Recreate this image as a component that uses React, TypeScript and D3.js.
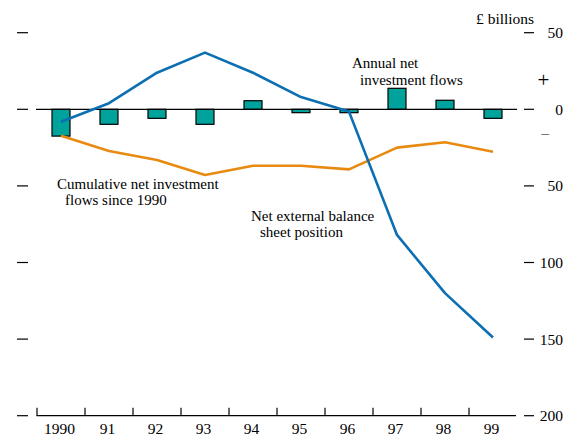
import React from "react";
import * as d3 from "d3";

const years = ["1990", "91", "92", "93", "94", "95", "96", "97", "98", "99"];
const annualFlows = [-17.5, -9.8, -5.9, -9.8, 5.6, -2.2, -2.2, 13.7, 5.9, -5.9];
const cumulativeFlows = [-17.2, -27.2, -33.1, -42.9, -36.8, -36.8, -39.2, -25, -21.5, -27.7];
const netPosition = [-8.1, 4.0, 23.9, 37.0, 23.9, 8.0, -1.5, -82, -120, -149];
const yTicks = [50, 0, -50, -100, -150, -200];
const yTickLabels = ["50", "0", "50", "100", "150", "200"];

const W = 563;
const H = 437;
const FONT = "'Liberation Serif', 'Times New Roman', serif";

export default function App() {
  const x = d3.scaleBand<string>().domain(years).range([37, 517]).padding(0);
  const y = d3.scaleLinear().domain([-200, 0]).range([415.7, 109.3]);
  const bw = x.bandwidth();
  const barW = 18;
  const cx = (i: number) => (x(years[i]) as number) + bw / 2;

  const line = d3
    .line<number>()
    .x((_, i) => cx(i))
    .y((d) => y(d));

  const teal = "#00a39c";
  const blue = "#0b6fb2";
  const orange = "#e98a10";

  return (
    <svg
      width={W}
      height={H}
      style={{ position: "absolute", left: 0, top: 0, display: "block" }}
      fontFamily={FONT}
      fontSize={15.5}
    >
      <rect width={W} height={H} fill="#fff" />
      {/* left ticks */}
      {yTicks.map((t) => (
        <line key={"l" + t} x1={17} x2={28} y1={y(t)} y2={y(t)} stroke="#000" strokeWidth={1.2} />
      ))}
      {/* right ticks and labels */}
      {yTicks.map((t, i) => (
        <g key={"r" + t}>
          <line x1={524} x2={534} y1={y(t)} y2={y(t)} stroke="#000" strokeWidth={1.2} />
          <text x={563} y={y(t)} dy="0.35em" textAnchor="end" fill="#000">
            {yTickLabels[i]}
          </text>
        </g>
      ))}
      <text x={543.5} y={80} dy="0.35em" textAnchor="middle" fontSize={21}>+</text>
      <text x={545} y={133} dy="0.35em" textAnchor="middle">–</text>
      <text x={476} y={24.3}>£ billions</text>

      {/* bars */}
      {annualFlows.map((v, i) => (
        <rect
          key={"b" + i}
          x={cx(i) - barW / 2}
          y={Math.min(y(v), y(0))}
          width={barW}
          height={Math.abs(y(v) - y(0))}
          fill={teal}
          stroke="#000"
          strokeWidth={1.2}
        />
      ))}
      {/* zero line */}
      <line x1={36} x2={517} y1={y(0)} y2={y(0)} stroke="#000" strokeWidth={1.2} />

      {/* x axis */}
      <line x1={36.5} x2={516} y1={y(-200)} y2={y(-200)} stroke="#000" strokeWidth={1.2} />
      {years.map((yr) => (
        <line
          key={"t" + yr}
          x1={(x(yr) as number)}
          x2={(x(yr) as number)}
          y1={y(-200)}
          y2={y(-200) - 8}
          stroke="#000"
          strokeWidth={1.2}
        />
      ))}
      {years.map((yr, i) => (
        <text key={"xl" + yr} x={cx(i) - 1.5} y={434} textAnchor="middle">
          {yr}
        </text>
      ))}

      {/* lines */}
      <path d={line(cumulativeFlows) || ""} fill="none" stroke={orange} strokeWidth={2.6} strokeLinejoin="round" />
      <path d={line(netPosition) || ""} fill="none" stroke={blue} strokeWidth={2.6} strokeLinejoin="round" />

      {/* annotations */}
      <g fontSize={15}>
        <text x={352} y={67.5}>Annual net</text>
        <text x={360} y={85}>investment flows</text>
        <text x={57} y={188.5}>Cumulative net investment</text>
        <text x={65} y={205}>flows since 1990</text>
        <text x={251} y={220.5}>Net external balance</text>
        <text x={260} y={237}>sheet position</text>
      </g>
    </svg>
  );
}
